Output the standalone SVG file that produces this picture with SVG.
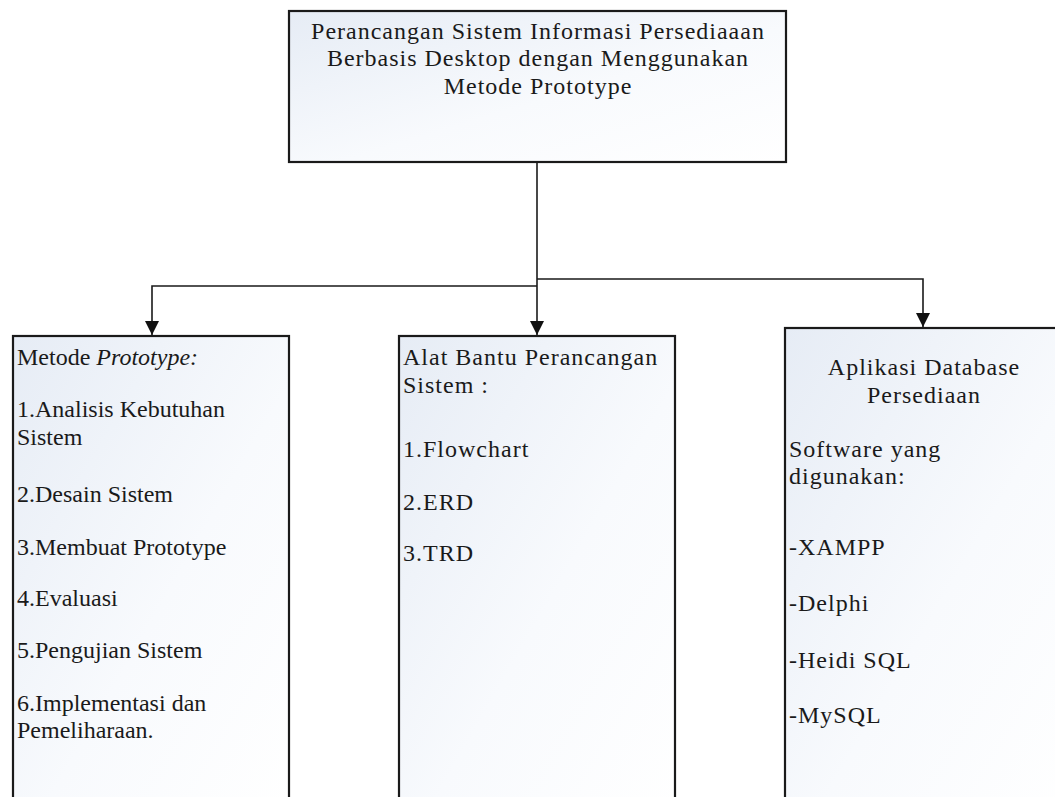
<svg xmlns="http://www.w3.org/2000/svg" width="1055" height="797" viewBox="0 0 1055 797">
<style>
.box{stroke:#1a1a1a;stroke-width:2.2;fill:url(#g)}
.t{font-family:"Liberation Serif","Times New Roman",serif;font-size:24px;fill:#1a1a1a}
.w{letter-spacing:1px}
.c{text-anchor:middle}
.ln{stroke:#1a1a1a;stroke-width:1.6;fill:none}
</style>
<defs>
<linearGradient id="g" x1="0" y1="0" x2="1" y2="1">
<stop offset="0" stop-color="#e6ecf5"/>
<stop offset="0.55" stop-color="#f8fafd"/>
<stop offset="1" stop-color="#ffffff"/>
</linearGradient>
<marker id="ah" viewBox="0 0 14 14" refX="14" refY="7" markerWidth="14" markerHeight="14" markerUnits="userSpaceOnUse" orient="auto">
<path d="M0,0 L14,7 L0,14 Z" fill="#111"/>
</marker>
</defs>
<rect width="1055" height="797" fill="#ffffff"/>
<g id="connectors">
<path class="ln" d="M537,162 V335" marker-end="url(#ah)"/>
<path class="ln" d="M537,286 H152 V335" marker-end="url(#ah)"/>
<path class="ln" d="M537,279 H923 V327" marker-end="url(#ah)"/>
</g>
<g id="top">
<rect class="box" x="289" y="11" width="497" height="151"/>
<text class="t c w" x="538" y="39">Perancangan Sistem Informasi Persediaaan</text>
<text class="t c w" x="538" y="66">Berbasis Desktop dengan Menggunakan</text>
<text class="t c w" x="538" y="94">Metode Prototype</text>
</g>
<g id="metode">
<rect class="box" x="13" y="336" width="276" height="480"/>
<text class="t" x="17" y="365">Metode <tspan font-style="italic">Prototype:</tspan></text>
<text class="t" x="17" y="417">1.Analisis Kebutuhan</text>
<text class="t" x="17" y="445">Sistem</text>
<text class="t" x="17" y="502">2.Desain Sistem</text>
<text class="t" x="17" y="555">3.Membuat Prototype</text>
<text class="t" x="17" y="606">4.Evaluasi</text>
<text class="t" x="17" y="658">5.Pengujian Sistem</text>
<text class="t" x="17" y="711">6.Implementasi dan</text>
<text class="t" x="17" y="738">Pemeliharaan.</text>
</g>
<g id="alat">
<rect class="box" x="399" y="336" width="276" height="480"/>
<text class="t w" x="403" y="365">Alat Bantu Perancangan</text>
<text class="t w" x="403" y="393">Sistem :</text>
<text class="t w" x="403" y="457">1.Flowchart</text>
<text class="t w" x="403" y="510">2.ERD</text>
<text class="t w" x="403" y="561">3.TRD</text>
</g>
<g id="aplikasi">
<rect class="box" x="785" y="328" width="290" height="490"/>
<text class="t c w" x="924" y="375">Aplikasi Database</text>
<text class="t c w" x="924" y="403">Persediaan</text>
<text class="t w" x="789" y="457">Software yang</text>
<text class="t w" x="789" y="484">digunakan:</text>
<text class="t w" x="789" y="555">-XAMPP</text>
<text class="t w" x="789" y="611">-Delphi</text>
<text class="t w" x="789" y="668">-Heidi SQL</text>
<text class="t w" x="789" y="723">-MySQL</text>
</g>
</svg>
